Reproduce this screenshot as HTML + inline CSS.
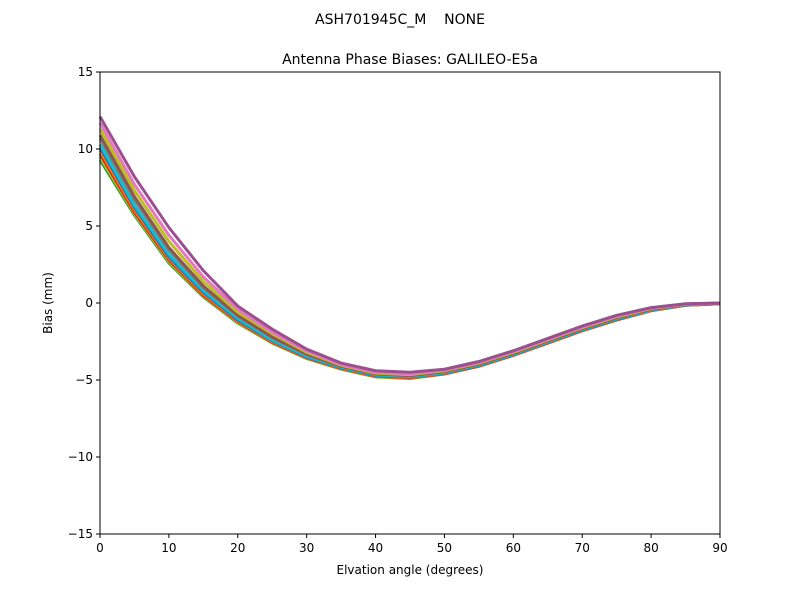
<!DOCTYPE html>
<html><head><meta charset="utf-8"><style>
body{margin:0;background:#fff;font-family:"Liberation Sans","DejaVu Sans",sans-serif}
svg text{font-family:"DejaVu Sans","Liberation Sans",sans-serif}
</style></head><body>
<svg id="chart" width="800" height="600" xmlns="http://www.w3.org/2000/svg">
<rect width="800" height="600" fill="#fff"/>
<text x="400" y="24" text-anchor="middle" font-size="14">ASH701945C_M&#160;&#160;&#160;&#160;NONE</text>
<text x="410" y="64" text-anchor="middle" font-size="14">Antenna Phase Biases: GALILEO-E5a</text>
<g id="lines"></g>
<g id="axes"></g>
<text x="410" y="574" text-anchor="middle" font-size="12">Elvation angle (degrees)</text>
<text transform="translate(52,303) rotate(-90)" text-anchor="middle" font-size="12">Bias (mm)</text>
</svg>
<script>
const elevations=[0,5,10,15,20,25,30,35,40,45,50,55,60,65,70,75,80,85,90];
const xTicks=[0,10,20,30,40,50,60,70,80,90];
const yTicks=[-15,-10,-5,0,5,10,15];
const yTickLabels=["\u221215","\u221210","\u22125","0","5","10","15"];
const s1=[12.1,8.2,4.9,2.1,-0.2,-1.7,-3.0,-3.9,-4.4,-4.5,-4.3,-3.8,-3.1,-2.3,-1.5,-0.8,-0.3,-0.05,0];
const s2=[11.7,7.7,4.4,1.7,-0.4,-1.9,-3.1,-4.0,-4.5,-4.6,-4.35,-3.85,-3.15,-2.35,-1.55,-0.85,-0.33,-0.07,0];
const s3=[11.3,7.3,4.0,1.4,-0.6,-2.0,-3.2,-4.05,-4.55,-4.65,-4.4,-3.9,-3.2,-2.4,-1.6,-0.9,-0.36,-0.08,0];
const s4=[10.9,6.9,3.6,1.1,-0.8,-2.2,-3.3,-4.1,-4.6,-4.7,-4.45,-3.95,-3.25,-2.45,-1.65,-0.95,-0.4,-0.1,-0.02];
const s5=[10.7,6.7,3.45,1.0,-0.85,-2.25,-3.35,-4.12,-4.62,-4.72,-4.47,-3.97,-3.27,-2.47,-1.67,-0.97,-0.41,-0.1,-0.02];
const s6=[10.3,6.35,3.15,0.8,-1.0,-2.4,-3.45,-4.17,-4.67,-4.77,-4.52,-4.02,-3.32,-2.52,-1.72,-1.02,-0.44,-0.12,-0.03];
const s7=[10.1,6.2,3.0,0.7,-1.1,-2.45,-3.5,-4.2,-4.7,-4.8,-4.55,-4.05,-3.35,-2.55,-1.75,-1.05,-0.46,-0.13,-0.04];
const s8=[9.9,6.05,2.9,0.6,-1.15,-2.5,-3.52,-4.22,-4.72,-4.82,-4.57,-4.07,-3.37,-2.57,-1.77,-1.07,-0.48,-0.14,-0.04];
const s9=[9.7,5.9,2.8,0.5,-1.2,-2.55,-3.55,-4.25,-4.75,-4.85,-4.6,-4.1,-3.4,-2.6,-1.8,-1.1,-0.5,-0.15,-0.05];
const s10=[9.5,5.8,2.7,0.45,-1.25,-2.58,-3.58,-4.28,-4.78,-4.88,-4.6,-4.1,-3.4,-2.6,-1.8,-1.1,-0.5,-0.15,-0.05];
const s11=[9.3,5.7,2.6,0.4,-1.3,-2.6,-3.6,-4.3,-4.8,-4.9,-4.6,-4.1,-3.4,-2.6,-1.8,-1.1,-0.5,-0.15,-0.05];
const series=[s1,s2,s3,s4,s5,s6,s7,s8,s9,s10,s11];
const colors=["#9b4f8f","#e377c2","#bcbd22","#8c564b","#7f7f7f","#17becf","#1f77b4","#ff7f0e","#d62728","#bcbd22","#2ca02c"];
const L=100,R=720,T=72,B=534;
const xs=v=>L+(v-0)/90*(R-L);
const ys=v=>B-(v+15)/30*(B-T);
const NS="http://www.w3.org/2000/svg";
const lines=document.getElementById('lines');
for(let i=series.length-1;i>=0;i--){
 const p=document.createElementNS(NS,'polyline');
 p.setAttribute('points',series[i].map((v,j)=>xs(elevations[j])+','+ys(v)).join(' '));
 p.setAttribute('fill','none');p.setAttribute('stroke',colors[i]);p.setAttribute('stroke-width','3');
 
 
 lines.appendChild(p);
}
const ax=document.getElementById('axes');
const fr=document.createElementNS(NS,'rect');
fr.setAttribute('x',L);fr.setAttribute('y',T);fr.setAttribute('width',R-L);fr.setAttribute('height',B-T);
fr.setAttribute('fill','none');fr.setAttribute('stroke','#000');fr.setAttribute('stroke-width','1');


ax.appendChild(fr);
xTicks.forEach(t=>{
 const l=document.createElementNS(NS,'line');
 l.setAttribute('x1',xs(t));l.setAttribute('x2',xs(t));l.setAttribute('y1',B);l.setAttribute('y2',B+4);l.setAttribute('stroke','#000');
 
 
 ax.appendChild(l);
 const tx=document.createElementNS(NS,'text');
 tx.setAttribute('x',xs(t));tx.setAttribute('y',B+18);tx.setAttribute('text-anchor','middle');tx.setAttribute('font-size','12');
 tx.textContent=t;
 
 
 ax.appendChild(tx);
});
yTicks.forEach((t,i)=>{
 const l=document.createElementNS(NS,'line');
 l.setAttribute('x1',L-4);l.setAttribute('x2',L);l.setAttribute('y1',ys(t));l.setAttribute('y2',ys(t));l.setAttribute('stroke','#000');
 
 
 ax.appendChild(l);
 const tx=document.createElementNS(NS,'text');
 tx.setAttribute('x',L-7);tx.setAttribute('y',ys(t)+4);tx.setAttribute('text-anchor','end');tx.setAttribute('font-size','12');
 tx.textContent=yTickLabels[i];
 
 
 ax.appendChild(tx);
});
</script>
</body></html>
